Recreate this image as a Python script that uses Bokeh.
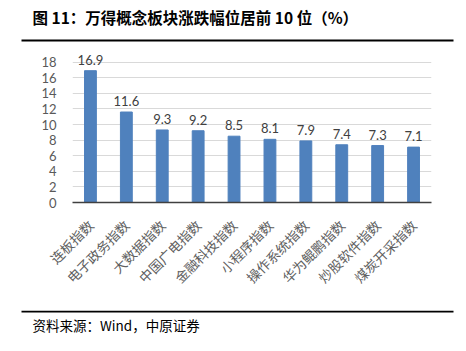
import math
from bokeh.plotting import figure
from bokeh.layouts import column, row
from bokeh.models import ColumnDataSource, FactorRange, Range1d, FixedTicker
from bokeh.core.properties import value
from bokeh.embed import file_html
from bokeh.resources import INLINE

categories = ["连板指数", "电子政务指数", "大数据指数", "中国广电指数", "金融科技指数",
              "小程序指数", "操作系统指数", "华为鲲鹏指数", "炒股软件指数", "煤炭开采指数"]
values = [16.9, 11.6, 9.3, 9.2, 8.5, 8.1, 7.9, 7.4, 7.3, 7.1]
value_labels = ["16.9", "11.6", "9.3", "9.2", "8.5", "8.1", "7.9", "7.4", "7.3", "7.1"]
y_ticks = [0, 2, 4, 6, 8, 10, 12, 14, 16, 18]

title_text = "图 11：万得概念板块涨跌幅位居前 10 位（%）"
source_text = "资料来源：Wind，中原证券"

CJK = "Noto Sans CJK SC"
NUM = "Lato"
W = 466


def strip_fig(h):
    f = figure(width=W, height=h, output_backend="svg", toolbar_location=None,
               x_range=Range1d(0, W), y_range=Range1d(h, 0),
               x_axis_type=None, y_axis_type=None,
               min_border=0, min_border_left=0, min_border_right=0,
               min_border_top=0, min_border_bottom=0)
    f.grid.visible = False
    f.outline_line_color = None
    f.background_fill_color = "white"
    f.border_fill_color = "white"
    return f


# header
head = strip_fig(46)
head.text(x=[32], y=[16], text=[title_text], text_baseline="middle", text_align="left",
          text_font=value(CJK), text_font_size="15.5px", text_font_style="bold", text_color="#000000")
head.segment(x0=[21], y0=[40], x1=[453], y1=[40], line_color="#000000", line_width=2)

# main chart
src = ColumnDataSource(dict(cat=categories, val=values, lab=value_labels))
p = figure(width=W, height=264, output_backend="svg", toolbar_location=None,
           x_range=FactorRange(factors=categories, range_padding=0),
           y_range=Range1d(0, 20),
           min_border_left=72, min_border_right=35, min_border_top=0, min_border_bottom=108)
p.outline_line_color = None
p.background_fill_color = "white"
p.border_fill_color = "white"

p.vbar(x="cat", top="val", width=0.33, source=src, fill_color="#4F81BD", line_color="#4F81BD")
p.text(x="cat", y="val", text="lab", source=src, text_align="center", text_baseline="bottom",
       y_offset=-6, text_font=value(NUM), text_font_size="13px", text_color="#404040")

p.yaxis.ticker = FixedTicker(ticks=y_ticks)
p.yaxis.axis_line_color = None
p.yaxis.major_tick_line_color = None
p.yaxis.minor_tick_line_color = None
p.yaxis.major_label_text_font = NUM
p.yaxis.major_label_text_font_size = "13px"
p.yaxis.major_label_text_color = "#595959"
p.yaxis.major_label_standoff = 10

p.xaxis.axis_line_color = "#404040"
p.xaxis.axis_line_width = 1.5
p.xaxis.major_tick_line_color = None
p.xaxis.minor_tick_line_color = None
p.xaxis.major_label_orientation = math.pi / 4
p.xaxis.major_label_text_font = CJK
p.xaxis.major_label_text_font_size = "13.5px"
p.xaxis.major_label_text_color = "#606060"
p.xaxis.major_label_standoff = 14

p.xgrid.grid_line_color = None
p.ygrid.grid_line_color = "#D9D9D9"
p.ygrid.grid_line_width = 1

# footer
foot = strip_fig(41)
foot.segment(x0=[21], y0=[1], x1=[453], y1=[1], line_color="#000000", line_width=2)
foot.text(x=[32], y=[14], text=[source_text], text_baseline="middle", text_align="left",
          text_font=value(CJK), text_font_size="13.5px", text_color="#000000")

layout = column(row(head, spacing=0), row(p, spacing=0), row(foot, spacing=0), spacing=0)
open("out.html", "w").write(file_html(layout, INLINE))
